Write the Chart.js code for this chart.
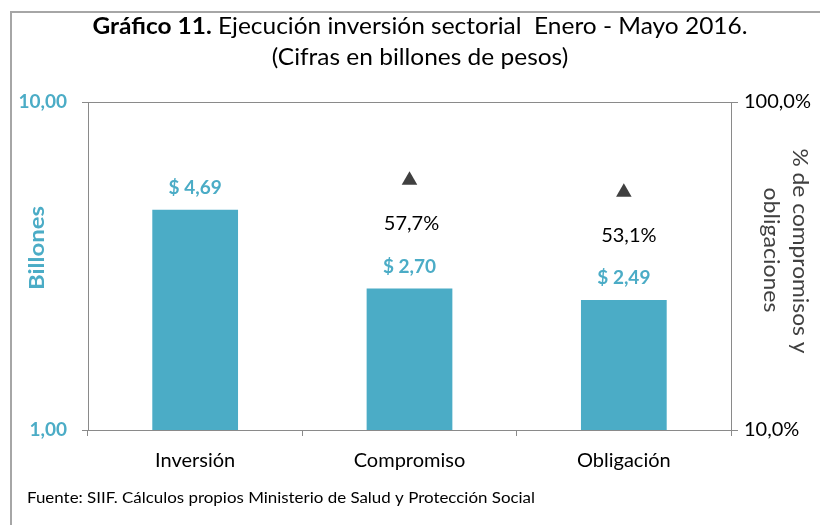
<!DOCTYPE html>
<html><head><meta charset="utf-8">
<script src="https://cdn.jsdelivr.net/npm/chart.js@4"></script>
<style>html,body{margin:0;padding:0;background:#fff}</style>
</head><body>
<canvas id="c" width="820" height="525"></canvas>
<script>
const categories = ['Inversión', 'Compromiso', 'Obligación'];
const amounts = [4.69, 2.70, 2.49];
const percents = [null, 57.7, 53.1];
const amountLabels = ['$ 4,69', '$ 2,70', '$ 2,49'];
const percentLabels = ['', '57,7%', '53,1%'];
const leftTicks = [1, 10];
const leftTickLabels = ['1,00', '10,00'];
const rightTicks = [10, 100];
const rightTickLabels = ['10,0%', '100,0%'];
const titleBold = 'Gráfico 11.';
const titleRest = ' Ejecución inversión sectorial  Enero - Mayo 2016.';
const subtitle = '(Cifras en billones de pesos)';
const leftTitle = 'Billones';
const rightTitle = ['% de compromisos y', 'obligaciones'];
const source = 'Fuente: SIIF. Cálculos propios Ministerio de Salud y Protección Social';

const FF = "Lato, 'Open Sans', sans-serif";
const TEAL = '#4BACC6';
const GRID = '#8A8A8A';

function fitText(ctx, text, x, y, width, align) {
  const m = ctx.measureText(text).width;
  const s = width / m;
  ctx.save();
  ctx.translate(x, y);
  ctx.scale(s, 1);
  ctx.textAlign = align;
  ctx.fillText(text, 0, 0);
  ctx.restore();
}

const deco = {
  id: 'deco',
  afterDraw(chart) {
    const ctx = chart.ctx;
    ctx.save();
    // frame
    ctx.strokeStyle = '#A6A6A6';
    ctx.lineWidth = 2;
    ctx.beginPath();
    ctx.moveTo(11, 525); ctx.lineTo(11, 12); ctx.lineTo(820, 12);
    ctx.stroke();

    // title line 1 (mixed)
    ctx.fillStyle = '#000';
    ctx.textBaseline = 'alphabetic';
    ctx.font = `bold 23px ${FF}`;
    const wb = ctx.measureText(titleBold).width;
    ctx.font = `23px ${FF}`;
    const wr = ctx.measureText(titleRest).width;
    const total = wb + wr;
    const s = 655 / total;
    ctx.save();
    ctx.translate(420, 34);
    ctx.scale(s, 1);
    ctx.textAlign = 'left';
    ctx.font = `bold 23px ${FF}`;
    ctx.fillText(titleBold, -total / 2, 0);
    ctx.font = `23px ${FF}`;
    ctx.fillText(titleRest, -total / 2 + wb, 0);
    ctx.restore();
    // subtitle
    ctx.save();
    ctx.translate(420, 65);
    ctx.scale(s, 1);
    ctx.textAlign = 'center';
    ctx.fillText(subtitle, 0, 0);
    ctx.restore();

    // left axis title
    ctx.save();
    ctx.fillStyle = TEAL;
    ctx.font = `bold 20px ${FF}`;
    ctx.textBaseline = 'middle';
    ctx.translate(38, 248);
    ctx.rotate(-Math.PI / 2);
    fitText(ctx, leftTitle, 0, 0, 84, 'center');
    ctx.restore();

    // right axis title
    ctx.fillStyle = '#404040';
    ctx.font = `21px ${FF}`;
    ctx.textBaseline = 'middle';
    [[800, 251, 205], [771, 250, 125]].forEach((p, i) => {
      ctx.save();
      ctx.translate(p[0], 0);
      ctx.rotate(Math.PI / 2);
      fitText(ctx, rightTitle[i], p[1], 0, p[2], 'center');
      ctx.restore();
    });

    // bar value labels
    const barMeta = chart.getDatasetMeta(0);
    ctx.fillStyle = TEAL;
    ctx.font = `bold 19px ${FF}`;
    ctx.textAlign = 'center';
    ctx.textBaseline = 'middle';
    barMeta.data.forEach((el, i) => {
      ctx.fillText(amountLabels[i], el.x, el.y - 22);
    });

    // percent labels
    const ptMeta = chart.getDatasetMeta(1);
    ctx.fillStyle = '#000';
    ctx.font = `20px ${FF}`;
    ptMeta.data.forEach((el, i) => {
      if (percents[i] == null) return;
      ctx.fillText(percentLabels[i], el.x + (i === 2 ? 5 : 2), el.y + 43);
    });

    // source
    ctx.fillStyle = '#000';
    ctx.font = `15px ${FF}`;
    ctx.textBaseline = 'alphabetic';
    fitText(ctx, source, 27, 503, 508, 'left');
    ctx.restore();
  }
};

new Chart(document.getElementById('c'), {
  data: {
    labels: categories,
    datasets: [
      {
        type: 'bar', data: amounts, yAxisID: 'y',
        backgroundColor: TEAL, borderWidth: 0,
        barPercentage: 0.4, categoryPercentage: 1, order: 2
      },
      {
        type: 'line', data: percents, yAxisID: 'y1',
        showLine: false, pointStyle: 'triangle', pointRadius: 9,
        backgroundColor: '#404040', borderColor: '#404040', borderWidth: 0,
        order: 1
      }
    ]
  },
  options: {
    responsive: false,
    devicePixelRatio: 1,
    animation: false,
    layout: { padding: { top: 102, bottom: 55, left: 0, right: 0 } },
    plugins: { legend: { display: false }, tooltip: { enabled: false } },
    scales: {
      x: {
        type: 'category',
        offset: true,
        grid: { display: true, offset: true, drawOnChartArea: false, drawTicks: true, tickLength: 6, color: GRID },
        border: { display: true, color: GRID },
        ticks: { color: '#000', font: { family: FF, size: 20 }, padding: 13 },
        afterFit: s => { s.height = 40; }
      },
      y: {
        type: 'logarithmic', position: 'left', min: 1, max: 10,
        afterBuildTicks: s => { s.ticks = leftTicks.map(v => ({ value: v, major: true })); },
        ticks: {
          color: TEAL, font: { family: FF, size: 19, weight: 'bold' }, padding: 15,
          callback: v => leftTickLabels[leftTicks.indexOf(v)]
        },
        grid: { color: GRID, drawOnChartArea: true, drawTicks: true, tickLength: 6 },
        border: { display: true, color: GRID },
        afterFit: s => { s.width = 88; }
      },
      y1: {
        type: 'logarithmic', position: 'right', min: 10, max: 100,
        afterBuildTicks: s => { s.ticks = rightTicks.map(v => ({ value: v, major: true })); },
        ticks: {
          color: '#000', font: { family: FF, size: 20 }, padding: 6,
          callback: v => rightTickLabels[rightTicks.indexOf(v)]
        },
        grid: { color: GRID, drawOnChartArea: false, drawTicks: true, tickLength: 7 },
        border: { display: true, color: GRID },
        afterFit: s => { s.width = 89; }
      }
    }
  },
  plugins: [deco]
});
</script>
</body></html>
